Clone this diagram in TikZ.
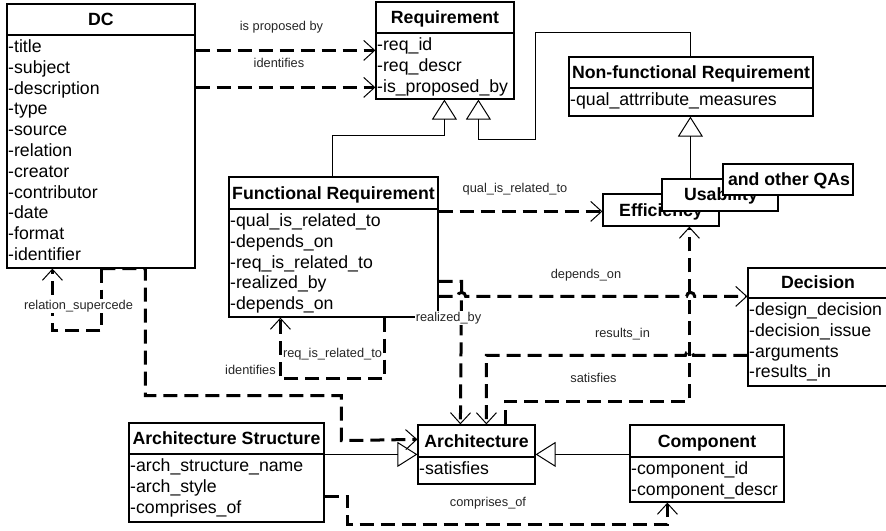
\documentclass[tikz,border=0pt]{standalone}
\usepackage{fontspec}
\setmainfont{Liberation Sans}
\usetikzlibrary{arrows.meta,calc,fit}
\tikzset{
  classbox/.style={draw=black, line width=1.2pt, fill=white, inner sep=0pt},
  divline/.style={line width=1.2pt},
  ttl/.style={font=\fontsize{17.7}{20}\selectfont\bfseries, inner sep=0pt, anchor=base},
  itm/.style={font=\fontsize{17.7}{20}\selectfont, inner sep=0pt, anchor=base west},
  lbl/.style={font=\fontsize{12.8}{14}\selectfont, inner sep=0pt, anchor=base, text=black!85},
  dep/.style={line width=3pt, dash pattern=on 14pt off 7pt,
    -{Straight Barb[length=11pt,width=20pt,line width=1pt]}},
  gen/.style={line width=0.9pt, -{Triangle[open,length=20pt,width=25pt,line width=1pt]}},
}
\newcommand{\umlclass}[8]{%
  \node[classbox, fit={(#2,#3) (#4,#5)}] (#1) {};
  \draw[divline] (#2,#6) -- (#4,#6);
  \node[ttl] (#1-t) at ({(#2+#4)/2},{#6-9.5}) {#7};
  \foreach \itm [count=\nn] in {#8} {\node[itm] (#1-\nn) at ({#2+1},{#6+17.5+(\nn-1)*20.8}) {\itm};}%
}
\begin{document}
\begin{tikzpicture}[x=1pt,y=-1pt]
\useasboundingbox (0,0) rectangle (886,530);
\clip (0,0) rectangle (886,530);
\fill[white] (0,0) rectangle (886,530);
% classes
\umlclass{dc}{7}{4}{195}{268}{35}{DC}{-title,-subject,-description,-type,-source,-relation,-creator,-contributor,-date,-format,-identifier}
\umlclass{req}{376}{2}{514}{99}{33}{Requirement}{-req\_id,-req\_descr,-is\_proposed\_by}
\umlclass{nfr}{569}{57}{813}{116}{88}{Non-functional Requirement}{-qual\_attrribute\_measures}
\umlclass{fr}{229}{177}{438}{317}{209}{Functional Requirement}{-qual\_is\_related\_to,-depends\_on,-req\_is\_related\_to,-realized\_by,-depends\_on}
\umlclass{dec}{748}{268}{888}{386}{298}{Decision}{-design\_decision,-decision\_issue,-arguments,-results\_in}
\umlclass{arcs}{129}{423}{324}{522}{454}{Architecture Structure}{-arch\_structure\_name,-arch\_style,-comprises\_of}
\umlclass{arch}{418}{425}{535}{484}{457}{Architecture}{-satisfies}
\umlclass{comp}{630}{425}{784}{502}{457}{Component}{-component\_id,-component\_descr}
% quality attribute boxes
\node[classbox, fit={(603,194) (719,226)}] (eff) {};
\node[ttl] (eff-t) at (661,216) {Efficiency};
\node[classbox, fit={(662,179) (778,211)}] (usa) {};
\node[ttl] (usa-t) at (721,200) {Usability};
\node[classbox, fit={(723,164) (853,195)}] (qas) {};
\node[ttl] (qas-t) at (789,185) {and other QAs};
% generalizations
\draw[gen] ($(fr.north west)+(104,0)$) -- ++(0,-41) -| ($(req.south west)+(69,0)$);
\draw[gen] ($(nfr.north west)+(122,0)$) -- ++(0,-24) -- ++(-155,0) -- ++(0,107) -| ($(req.south west)+(103,0)$);
\draw[gen] ($(usa.north west)+(29,0)$) -- ($(nfr.south west)+(122,0)$);
\draw[gen] ($(arcs.north east)+(0,32)$) -- ($(arch.north west)+(0,30)$);
\draw[gen] ($(comp.north west)+(0,30)$) -- ($(arch.north east)+(0,30)$);
% dependencies
\draw[dep] ($(dc.north east)+(0,47)$) -- ($(req.north west)+(0,49)$);
\draw[dep] ($(dc.north east)+(0,84)$) -- ($(req.north west)+(0,86)$);
\draw[dep] ($(fr.north east)+(0,35)$) -- ($(eff.north west)+(0,18)$);
\draw[dep] ($(fr.north east)+(0,120)$) -- ++(19,0) arc[start angle=180,end angle=0,radius=4pt]
   -- ++(221,0) arc[start angle=180,end angle=0,radius=4pt] -- ($(dec.north west)+(0,29)$);
\draw[dep] ($(fr.north east)+(0,105)$) -- ++(23,0) -- ($(arch.north west)+(43,0)$);
\draw[dep] ($(dec.north west)+(0,88)$) -- ++(-54,0) arc[start angle=0,end angle=180,radius=4pt]
   -- ++(-199,0) -- ($(arch.north west)+(69,0)$);
\draw[dep] ($(arch.north west)+(88,0)$) -- ++(0,-23) -| ($(eff.south west)+(87,0)$);
\draw[dep] ($(fr.south west)+(156,0)$) -- ++(0,61) -- ++(-104,0) -- ($(fr.south west)+(52,0)$);
\draw[dep] ($(dc.south west)+(95,0)$) -- ++(0,62) -- ++(-49,0) -- ($(dc.south west)+(46,0)$);
\draw[dep] ($(dc.south west)+(95,0)$) -- ++(44,0) -- ++(0,127) -- ++(196,0) -- ++(0,45) -- ($(arch.north west)+(0,15)$);
\draw[dep] ($(arcs.north east)+(0,74)$) -- ++(23,0) -- ++(0,28) -| ($(comp.south west)+(38,0)$);
% labels
\node[lbl] (l1) at (281.5,30) {is proposed by};
\node[lbl] (l2) at (279,67) {identifies};
\node[lbl] (l3) at (515,192) {qual\_is\_related\_to};
\node[lbl] (l4) at (586,278) {depends\_on};
\node[lbl, fill=white, inner sep=1pt] (l5) at (448.5,321) {realized\_by};
\node[lbl] (l6) at (622.5,337) {results\_in};
\node[lbl] (l7) at (593.5,382) {satisfies};
\node[lbl] (l8) at (332.5,357) {req\_is\_related\_to};
\node[lbl] (l9) at (250.5,374) {identifies};
\node[lbl, fill=white, inner sep=1pt] (l10) at (78.5,309) {relation\_supercede};
\node[lbl] (l11) at (488,506) {comprises\_of};
\end{tikzpicture}
\end{document}
